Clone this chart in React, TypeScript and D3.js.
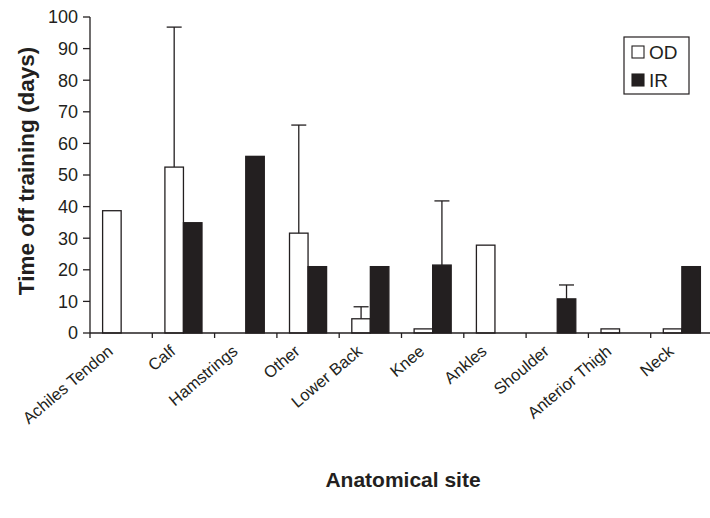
import * as d3 from "d3";

const sites = ["Achiles Tendon", "Calf", "Hamstrings", "Other", "Lower Back", "Knee", "Ankles", "Shoulder", "Anterior Thigh", "Neck"];
const odDays = [38.7, 52.5, 0, 31.6, 4.5, 1.3, 27.8, 0, 1.3, 1.3];
const irDays = [0, 34.9, 55.9, 21, 21, 21.5, 0, 10.8, 0, 21];
// upper end of the error bars (null = none)
const odUpper = [null, 96.8, null, 65.8, 8.3, null, null, null, null, null];
const irUpper = [null, null, null, null, null, 41.8, null, 15.2, null, null];
const yTicks = [0, 10, 20, 30, 40, 50, 60, 70, 80, 90, 100];
const groups = ["OD", "IR"];

const ink = "#231f20";
const font = "Arial, 'Liberation Sans', Helvetica, sans-serif";

export default function App() {
  const width = 710, height = 518;
  const left = 90, right = 713, top = 17, bottom = 333;

  const x = d3.scaleBand().domain(sites).range([left, right]).padding(0);
  const x1 = d3.scaleBand().domain(groups).range([0, x.bandwidth()]).paddingInner(0).paddingOuter(0.68);
  const y = d3.scaleLinear().domain([0, 100]).range([bottom, top]);
  const bw = x1.bandwidth();

  const series = [
    { key: "OD", vals: odDays, upper: odUpper, fill: "#ffffff" },
    { key: "IR", vals: irDays, upper: irUpper, fill: ink },
  ];

  const bounds = sites.map(s => x(s)).concat([right]);

  return (
    <svg width={width} height={height} style={{ position: "absolute", left: 0, top: 0, background: "#fff" }} fontFamily={font}>
      {series.map(sr => (
        <g key={sr.key}>
          {sites.map((s, i) => sr.vals[i] > 0 && (
            <rect key={s} x={x(s) + x1(sr.key)} y={y(sr.vals[i])} width={bw} height={y(0) - y(sr.vals[i])}
              fill={sr.fill} stroke={ink} strokeWidth={1.3} />
          ))}
          {sites.map((s, i) => {
            const u = sr.upper[i];
            if (u == null) return null;
            const cx = x(s) + x1(sr.key) + bw / 2;
            return (
              <g key={s + "e"} stroke={ink} strokeWidth={1.3}>
                <line x1={cx} x2={cx} y1={y(sr.vals[i])} y2={y(u)} />
                <line x1={cx - 7.5} x2={cx + 7.5} y1={y(u)} y2={y(u)} />
              </g>
            );
          })}
        </g>
      ))}

      {/* y axis */}
      <line x1={left} x2={left} y1={top} y2={bottom} stroke={ink} strokeWidth={1.3} />
      {yTicks.map(t => (
        <g key={t}>
          <line x1={left - 7} x2={left} y1={y(t)} y2={y(t)} stroke={ink} strokeWidth={1.3} />
          <text x={left - 12} y={y(t)} dy="0.36em" textAnchor="end" fontSize={18} fill={ink}>{t}</text>
        </g>
      ))}

      {/* x axis */}
      <line x1={left} x2={right} y1={bottom} y2={bottom} stroke={ink} strokeWidth={1.3} />
      {bounds.map((b, i) => (
        <line key={i} x1={b} x2={b} y1={bottom} y2={bottom + 5} stroke={ink} strokeWidth={1.3} />
      ))}
      {sites.map(s => (
        <text key={s} transform={`translate(${x(s) + x.bandwidth() / 2 - 7},${bottom + 20}) rotate(-40)`}
          textAnchor="end" fontSize={16.5} fill={ink}>{s}</text>
      ))}

      <text x={403} y={487} textAnchor="middle" fontSize={21} fontWeight="bold" fill={ink}>Anatomical site</text>
      <text transform={`translate(34,${(top + bottom) / 2 - 4}) rotate(-90)`} textAnchor="middle" fontSize={22.5} fontWeight="bold" fill={ink}>
        Time off training (days)
      </text>

      {/* legend */}
      <g>
        <rect x={624} y={37} width={65} height={57} fill="#fff" stroke={ink} strokeWidth={1.2} />
        {series.map((sr, i) => (
          <g key={sr.key} transform={`translate(632,${46 + i * 28})`}>
            <rect x={0} y={0} width={12} height={12} fill={sr.fill} stroke={ink} strokeWidth={1.1} />
            <text x={17} y={6.5} dy="0.36em" fontSize={19} fill={ink}>{sr.key}</text>
          </g>
        ))}
      </g>
    </svg>
  );
}
